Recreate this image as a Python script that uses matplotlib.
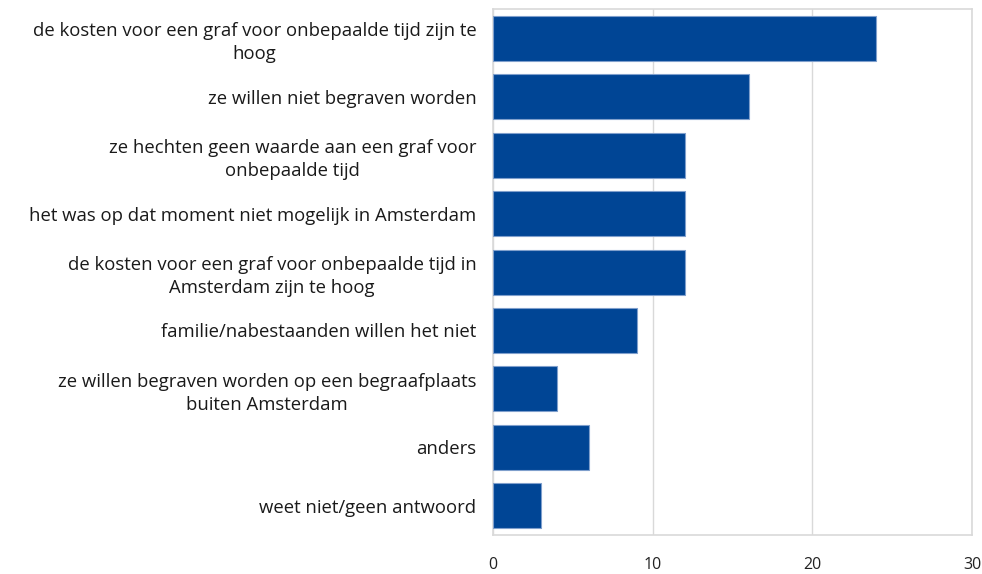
import matplotlib.pyplot as plt

plt.rcParams['font.family'] = ['Open Sans', 'DejaVu Sans']

# Data
labels = [
    "de kosten voor een graf voor onbepaalde tijd zijn te\nhoog",
    "ze willen niet begraven worden",
    "ze hechten geen waarde aan een graf voor\nonbepaalde tijd",
    "het was op dat moment niet mogelijk in Amsterdam",
    "de kosten voor een graf voor onbepaalde tijd in\nAmsterdam zijn te hoog",
    "familie/nabestaanden willen het niet",
    "ze willen begraven worden op een begraafplaats\nbuiten Amsterdam",
    "anders",
    "weet niet/geen antwoord",
]
values = [24, 16, 12, 12, 12, 9, 4, 6, 3]
xticks = [0, 10, 20, 30]

fig = plt.figure(figsize=(9.82, 5.74), dpi=100)
ax = fig.add_axes([0.502, 0.068, 0.488, 0.916])

pos = list(range(len(values)))[::-1]
ax.barh(pos, values, height=0.77, color="#004595", edgecolor="#7f9fcc",
        linewidth=0.8, zorder=3)

ax.set_xlim(0, 30)
ax.set_ylim(-0.5, len(values) - 0.5)
ax.set_xticks(xticks)
ax.set_xticklabels([str(t) for t in xticks], fontsize=11.5, color="#222222")
ax.set_yticks(pos)
ax.set_yticklabels(labels, fontsize=13.3, color="#1a1a1a",
                   multialignment="center", linespacing=1.35)
ax.tick_params(axis="x", length=0, pad=16)
ax.tick_params(axis="y", length=0, pad=12)

ax.grid(axis="x", color="#d9d9d9", linewidth=1, zorder=0)
for s in ax.spines.values():
    s.set_color("#d9d9d9")
    s.set_linewidth(1.2)

plt.savefig("out.png", dpi=100)
plt.close()
